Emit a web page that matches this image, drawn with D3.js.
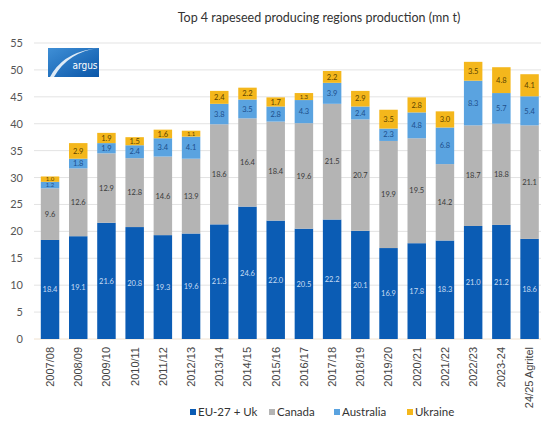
<!DOCTYPE html>
<html><head><meta charset="utf-8">
<script src="https://cdn.jsdelivr.net/npm/d3@7"></script>
<style>
html,body{margin:0;padding:0;background:#fff;}
svg{display:block;font-family:Lato,"Open Sans",sans-serif;}
</style></head>
<body><svg id="c" width="541" height="421"></svg>
<script>
const categories = ["2007/08","2008/09","2009/10","2010/11","2011/12","2012/13","2013/14","2014/15","2015/16","2016/17","2017/18","2018/19","2019/20","2020/21","2021/22","2022/23","2023-24","24/25 Agritel"];
const euUk      = [18.4,19.1,21.6,20.8,19.3,19.6,21.3,24.6,22.0,20.5,22.2,20.1,16.9,17.8,18.3,21.0,21.2,18.6];
const canada    = [9.6,12.6,12.9,12.8,14.6,13.9,18.6,16.4,18.4,19.6,21.5,20.7,19.9,19.5,14.2,18.7,18.8,21.1];
const australia = [1.2,1.8,1.9,2.4,3.4,4.1,3.8,3.5,2.8,4.3,3.9,2.4,2.3,4.8,6.8,8.3,5.7,5.4];
const ukraine   = [1.0,2.9,1.9,1.5,1.6,1.1,2.4,2.2,1.7,1.3,2.2,2.9,3.5,2.8,3.0,3.5,4.8,4.1];
const seriesNames = ["EU-27 + Uk","Canada","Australia","Ukraine"];
const yTicks = [0,5,10,15,20,25,30,35,40,45,50,55];
const title = "Top 4 rapeseed producing regions production (mn t)";

const colors = ["#0b5cb4","#b4b4b4","#5aa3e0","#f4b71c"];
const labelColors = ["#c9dcf3","#3a3a3a","#1d4f8c","#5b4300"];

const svg = d3.select("#c");
const y = d3.scaleLinear().domain([0,55]).range([339,43]);
const x = d3.scaleBand().domain(categories).range([36,543.6]).paddingInner(0.345).paddingOuter(0.17);

// title
svg.append("text").attr("x",319).attr("y",22).attr("text-anchor","middle")
  .attr("font-size",12.5).attr("fill","#333").text(title);

// gridlines
svg.append("g").selectAll("line").data(yTicks).join("line")
  .attr("x1",34).attr("x2",541).attr("y1",d=>y(d)).attr("y2",d=>y(d))
  .attr("stroke",d=>d===0?"#f0e2d0":"#e3e3e3").attr("stroke-width",1);

// y labels
const yAxis = d3.axisLeft(y).tickValues(yTicks).tickSize(0).tickPadding(0);
const gy = svg.append("g").attr("transform","translate(23,0)").call(yAxis);
gy.select(".domain").remove();
gy.selectAll("text").attr("font-size",11).attr("fill","#555").attr("font-family","Lato,sans-serif");

// logo
const logo = svg.append("g").attr("transform","translate(48,48)");
const lg = svg.append("defs").append("linearGradient").attr("id","lg").attr("x1","0").attr("y1","0").attr("x2","1").attr("y2","1");
lg.append("stop").attr("offset","0").attr("stop-color","#3f8fd6");
lg.append("stop").attr("offset","1").attr("stop-color","#0a56a8");
logo.append("rect").attr("width",51).attr("height",29).attr("fill","url(#lg)");
logo.append("path").attr("d","M2,29 Q14,6 44,1 L51,0 Q20,4 6,29 Z").attr("fill","#ffffff").attr("opacity",0.85);
logo.append("text").attr("x",37).attr("y",21).attr("text-anchor","middle").attr("font-size",10)
  .attr("font-family","'Liberation Sans Narrow','DejaVu Sans Condensed',sans-serif").attr("fill","#fff").text("argus");

// stacked data
const rows = categories.map((c,i)=>({cat:c, s0:euUk[i], s1:canada[i], s2:australia[i], s3:ukraine[i]}));
const stack = d3.stack().keys(["s0","s1","s2","s3"])(rows);

const gBars = svg.append("g");
stack.forEach((layer,k)=>{
  gBars.append("g").selectAll("rect").data(layer).join("rect")
    .attr("x",d=>x(d.data.cat)).attr("width",x.bandwidth())
    .attr("y",d=>y(d[1])).attr("height",d=>y(d[0])-y(d[1]))
    .attr("fill",colors[k]);
});
stack.forEach((layer,k)=>{
  gBars.append("g").selectAll("text").data(layer).join("text")
    .attr("x",d=>x(d.data.cat)+x.bandwidth()/2)
    .attr("y",d=>{
      const h = y(d[0])-y(d[1]);
      const fs = h < 7 ? 6 : 7.5;
      return (y(d[0])+y(d[1]))/2 + fs*0.36;
    })
    .attr("text-anchor","middle")
    .attr("font-size",d=>(y(d[0])-y(d[1])) < 7 ? 6 : 7.5)
    .attr("fill",labelColors[k])
    .text(d=>(d[1]-d[0]).toFixed(1));
});

// x labels
const gx = svg.append("g").attr("transform","translate(0,347)")
  .call(d3.axisBottom(x).tickSize(0).tickPadding(0));
gx.select(".domain").remove();
gx.selectAll("text").attr("font-size",11).attr("fill","#444")
  .attr("transform","rotate(-90)").attr("text-anchor","end")
  .attr("dx","0").attr("dy","0.35em").attr("x",0).attr("y",0);

// legend
const legX = [190,269,334,407];
const lg2 = svg.append("g");
seriesNames.forEach((n,i)=>{
  lg2.append("rect").attr("x",legX[i]).attr("y",409).attr("width",6).attr("height",6).attr("fill",colors[i]);
  lg2.append("text").attr("x",legX[i]+8).attr("y",415.5).attr("font-size",11.5).attr("fill","#333").text(n);
});
</script></body></html>
